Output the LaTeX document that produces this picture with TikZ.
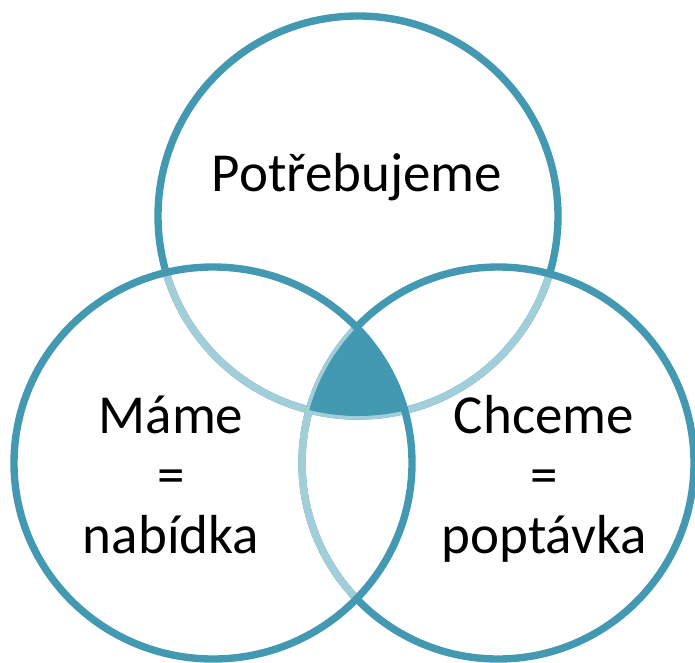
\documentclass[tikz,border=0pt]{standalone}
\usepackage{fontspec}
\usepackage{tikz}
\usepackage{xcolor}
\setmainfont{Carlito}

\definecolor{venndark}{HTML}{4399B1}
\definecolor{vennlight}{HTML}{A2CEDA}

\tikzset{
  ring/.style={draw=venndark,line width=4.2pt},
  ringlight/.style={draw=vennlight,line width=4.2pt},
  venntext/.style={font=\fontsize{31.3}{34.1}\selectfont,align=center,anchor=base}
}

\begin{document}
\begin{tikzpicture}
  [x=0.02cm,y=-0.02cm]
  \useasboundingbox (0,0) rectangle (695,662);

  \coordinate (need) at (358,216);
  \coordinate (have) at (213,463);
  \coordinate (want) at (498,463);

  % top set, paler where the two lower sets lie over it
  \draw[ring] (need) circle [radius=200];
  \begin{scope}
    \clip (have) ellipse [x radius=199,y radius=196]
          (want) circle [radius=196];
    \draw[ringlight] (need) circle [radius=200];
  \end{scope}

  % right set, paler under the left one
  \draw[ring] (want) circle [radius=196];
  \begin{scope}
    \clip (have) ellipse [x radius=199,y radius=196];
    \draw[ringlight] (want) circle [radius=196];
  \end{scope}

  \draw[ring] (have) ellipse [x radius=199,y radius=196];

  % common part of all three
  \begin{scope}
    \clip (need) circle [radius=200];
    \clip (have) ellipse [x radius=199,y radius=196];
    \fill[venndark] (want) circle [radius=196];
  \end{scope}

  % base of a multi-line node is its last line
  \node[venntext] (needtext) at (357,191) {Potřebujeme};
  \node[venntext] (havetext) at (171,553) {Máme\\=\\nabídka};
  \node[venntext] (wanttext) at (544,553) {Chceme\\=\\poptávka};
\end{tikzpicture}
\end{document}
